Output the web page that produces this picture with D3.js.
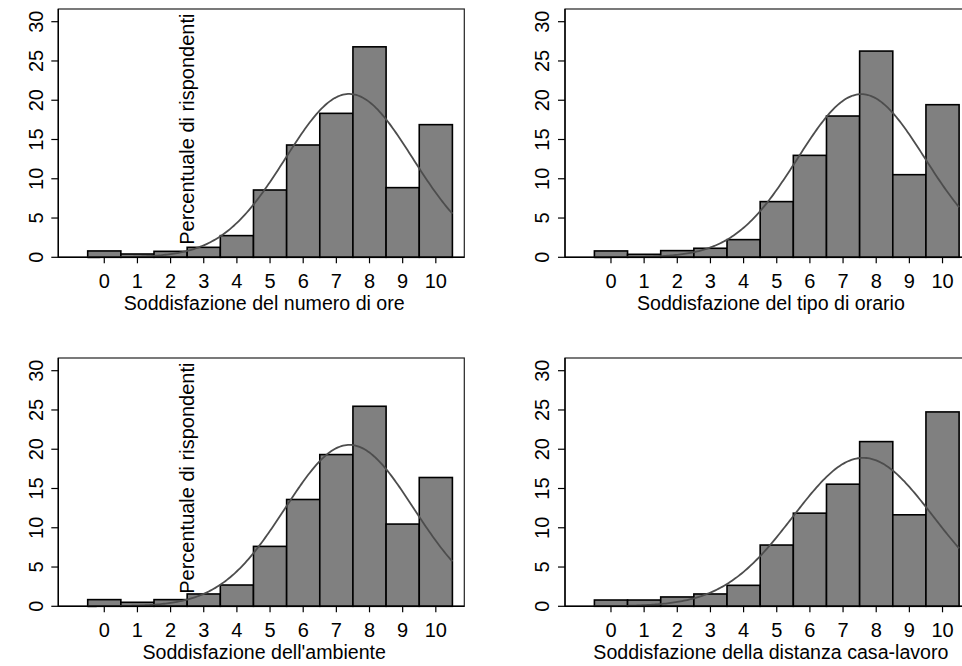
<!DOCTYPE html>
<html>
<head>
<meta charset="utf-8">
<script src="https://cdn.jsdelivr.net/npm/d3@7/dist/d3.min.js"></script>
<style>
  html, body { margin: 0; padding: 0; background: #fff; }
  svg { display: block; }
  text { font-family: "Liberation Sans", Arial, Helvetica, sans-serif; fill: #000; }
</style>
</head>
<body>
<svg id="chart" width="962" height="666"></svg>
<script>
// Satisfaction scores (0-10) and percentage of respondents per score
const scores = [0, 1, 2, 3, 4, 5, 6, 7, 8, 9, 10];
const oreValues      = [0.81, 0.42, 0.76, 1.27, 2.76, 8.57, 14.3, 18.33, 26.8, 8.87, 16.89];
const orarioValues   = [0.81, 0.38, 0.85, 1.15, 2.25, 7.09, 12.98, 17.99, 26.26, 10.52, 19.43];
const ambienteValues = [0.85, 0.51, 0.85, 1.57, 2.71, 7.63, 13.6, 19.32, 25.47, 10.47, 16.4];
const distanzaValues = [0.8, 0.8, 1.19, 1.57, 2.67, 7.8, 11.86, 15.55, 20.97, 11.65, 24.75];
const yTicks = [0, 5, 10, 15, 20, 25, 30];
const xTitles = [
  "Soddisfazione del numero di ore",
  "Soddisfazione del tipo di orario",
  "Soddisfazione dell'ambiente",
  "Soddisfazione della distanza casa-lavoro"
];
const yTitle = "Percentuale di rispondenti";

const panels = [
  { values: oreValues,      title: xTitles[0], dx: 0,     dy: 0,   showY: true },
  { values: orarioValues,   title: xTitles[1], dx: 506.7, dy: 0,   showY: false },
  { values: ambienteValues, title: xTitles[2], dx: 0,     dy: 349, showY: true },
  { values: distanzaValues, title: xTitles[3], dx: 506.7, dy: 349, showY: false }
];

const svg = d3.select("#chart");
const TICK_FONT = 20;
const TITLE_FONT = 19.6;

// Shared geometry of one panel (in panel-local coordinates)
const frame = { left: 58.3, right: 464.3, top: 9, bottom: 257.3 };
const x = d3.scaleLinear().domain([-0.5, 10.5]).range([87.7, 452.4]);
const y = d3.scaleLinear().domain([0, 30]).range([257.3, 21.7]);

panels.forEach(p => {
  const g = svg.append("g").attr("transform", `translate(${p.dx},${p.dy})`);

  // Plot frame
  g.append("rect")
    .attr("x", frame.left).attr("y", frame.top)
    .attr("width", frame.right - frame.left)
    .attr("height", frame.bottom - frame.top)
    .attr("fill", "none").attr("stroke", "#222").attr("stroke-width", 1.2);

  // Histogram bars (bin width 1, centred on each score)
  g.selectAll("rect.bar")
    .data(scores)
    .enter().append("rect")
    .attr("class", "bar")
    .attr("x", d => x(d - 0.5))
    .attr("width", d => x(d + 0.5) - x(d - 0.5))
    .attr("y", (d, i) => y(p.values[i]))
    .attr("height", (d, i) => y(0) - y(p.values[i]))
    .attr("fill", "#808080")
    .attr("stroke", "#000")
    .attr("stroke-width", 1.6);

  // Normal density fitted to the distribution (mean and sd of the scores)
  const total = d3.sum(p.values);
  const mean = d3.sum(scores, (s, i) => s * p.values[i]) / total;
  const sd = Math.sqrt(d3.sum(scores, (s, i) => p.values[i] * (s - mean) ** 2) / total);
  const pdf = v => 100 / (sd * Math.sqrt(2 * Math.PI)) * Math.exp(-0.5 * ((v - mean) / sd) ** 2);
  const grid = d3.range(-0.5, 10.5001, 0.05);
  g.append("path")
    .datum(grid)
    .attr("d", d3.line().x(v => x(v)).y(v => y(pdf(v))))
    .attr("fill", "none")
    .attr("stroke", "#4d4d4d")
    .attr("stroke-width", 1.8);

  // Axis lines
  g.append("line")
    .attr("x1", frame.left).attr("x2", frame.right)
    .attr("y1", y(0)).attr("y2", y(0))
    .attr("stroke", "#000").attr("stroke-width", 1.4);
  g.append("line")
    .attr("x1", frame.left).attr("x2", frame.left)
    .attr("y1", frame.top).attr("y2", y(0))
    .attr("stroke", "#000").attr("stroke-width", 1.4);

  // Y axis ticks and vertical labels
  g.selectAll("line.ytick")
    .data(yTicks).enter().append("line")
    .attr("x1", frame.left - 7).attr("x2", frame.left)
    .attr("y1", d => y(d)).attr("y2", d => y(d))
    .attr("stroke", "#000").attr("stroke-width", 1.2);
  g.selectAll("text.ylab")
    .data(yTicks).enter().append("text")
    .attr("transform", d => `translate(42.5,${y(d)}) rotate(-90)`)
    .attr("text-anchor", "middle")
    .style("font-size", TICK_FONT + "px")
    .text(d => d);

  // X axis ticks and labels
  g.selectAll("line.xtick")
    .data(scores).enter().append("line")
    .attr("x1", d => x(d)).attr("x2", d => x(d))
    .attr("y1", y(0)).attr("y2", y(0) + 6)
    .attr("stroke", "#000").attr("stroke-width", 1.2);
  g.selectAll("text.xlab")
    .data(scores).enter().append("text")
    .attr("x", d => x(d))
    .attr("y", y(0) + 31)
    .attr("text-anchor", "middle")
    .style("font-size", TICK_FONT + "px")
    .text(d => d);

  // X axis title
  g.append("text")
    .attr("x", 264.2)
    .attr("y", y(0) + 52.5)
    .attr("text-anchor", "middle")
    .style("font-size", TITLE_FONT + "px")
    .text(p.title);

  // Y axis title
  if (p.showY) {
    g.append("text")
      .attr("transform", `translate(193.5,${y(0) - 12.5}) rotate(-90)`)
      .attr("text-anchor", "start")
      .style("font-size", TICK_FONT + "px")
      .text(yTitle);
  }
});
</script>
</body>
</html>
